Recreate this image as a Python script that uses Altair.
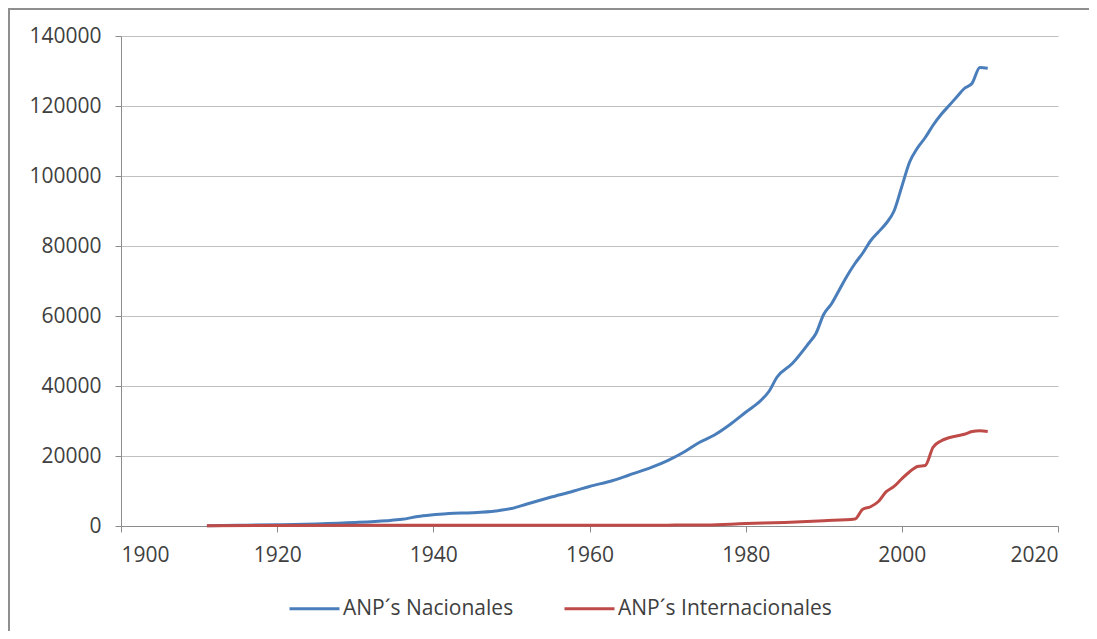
import altair as alt
import pandas as pd

years_nac = [1911, 1915, 1920, 1925, 1930, 1934, 1936, 1938, 1940, 1942, 1945, 1948,
             1950, 1952, 1955, 1958, 1960, 1963, 1965, 1968, 1970, 1972, 1974, 1976,
             1978, 1980, 1982, 1983, 1984, 1986, 1988, 1989, 1990, 1991, 1992, 1993,
             1994, 1995, 1996, 1997, 1998, 1999, 2000, 2001, 2002, 2003, 2004, 2005,
             2006, 2007, 2008, 2009, 2010, 2011]
vals_nac = [100, 200, 350, 600, 1000, 1500, 1900, 2700, 3200, 3600, 3800, 4300,
            5000, 6300, 8200, 10000, 11300, 13000, 14500, 16800, 18700, 21000, 23800, 26000,
            29000, 32500, 36000, 38500, 42500, 46500, 52000, 55000, 60500, 63500, 67500, 71500,
            75000, 78000, 81500, 84000, 86500, 90000, 97000, 104000, 108000, 111000, 114500, 117500,
            120000, 122500, 125000, 126500, 131000, 130800]

years_int = [1911, 1920, 1930, 1940, 1950, 1960, 1970, 1975, 1980, 1985, 1990, 1994,
             1995, 1996, 1997, 1998, 1999, 2000, 2001, 2002, 2003, 2004, 2005, 2006,
             2007, 2008, 2009, 2010, 2011]
vals_int = [100, 150, 200, 200, 200, 200, 250, 300, 700, 1000, 1500, 2000,
            4800, 5500, 7000, 9800, 11300, 13500, 15500, 17000, 17300, 22500, 24300, 25200,
            25700, 26200, 27000, 27200, 27000]

series_names = ["ANP´s Nacionales", "ANP´s Internacionales"]
series_colors = ["#4a7ebb", "#be4b48"]

df = pd.concat([
    pd.DataFrame({"year": years_nac, "value": vals_nac, "serie": series_names[0]}),
    pd.DataFrame({"year": years_int, "value": vals_int, "serie": series_names[1]}),
])

FONT = "Open Sans"

lines = alt.Chart(df).mark_line(strokeWidth=3, interpolate="monotone").encode(
    x=alt.X("year:Q",
            scale=alt.Scale(domain=[1900, 2020], nice=False, zero=False),
            axis=alt.Axis(values=[1900, 1920, 1940, 1960, 1980, 2000, 2020],
                          format="d", title=None, grid=False,
                          tickSize=6, labelPadding=12, domainColor="#8c8c8c",
                          tickColor="#8c8c8c", labelFont=FONT, labelFontSize=21,
                          labelColor="#404040")),
    y=alt.Y("value:Q",
            scale=alt.Scale(domain=[0, 140000], nice=False),
            axis=alt.Axis(values=[0, 20000, 40000, 60000, 80000, 100000, 120000, 140000],
                          format="d", title=None, grid=True, gridColor="#c0c0c0",
                          tickSize=6, labelPadding=14, domainColor="#8c8c8c",
                          tickColor="#8c8c8c", labelFont=FONT, labelFontSize=21,
                          labelColor="#404040")),
    color=alt.Color("serie:N",
                    scale=alt.Scale(domain=series_names, range=series_colors),
                    legend=alt.Legend(title=None, orient="none", direction="horizontal",
                                      legendX=167, legendY=546,
                                      symbolType="stroke", symbolSize=2500,
                                      symbolStrokeWidth=3, labelFont=FONT,
                                      labelFontSize=21, labelColor="#404040",
                                      labelLimit=400,
                                      labelOffset=2, columnPadding=44)),
)

frame = alt.Chart(alt.Data(values=[{"a": 1}])).mark_rect(
    fill=None, stroke="#8f8f8f", strokeWidth=2
).encode(
    x=alt.value(-112), x2=alt.value(1000),
    y=alt.value(-27), y2=alt.value(640),
)

chart = alt.layer(frame, lines).properties(
    width=937, height=490,
    padding={"left": 113, "top": 28, "right": 31, "bottom": 105},
    autosize=alt.AutoSizeParams(type="none"),
    background="white",
).configure_view(stroke=None)

chart.save("out.html", embed_options={"renderer": "svg", "actions": False})
